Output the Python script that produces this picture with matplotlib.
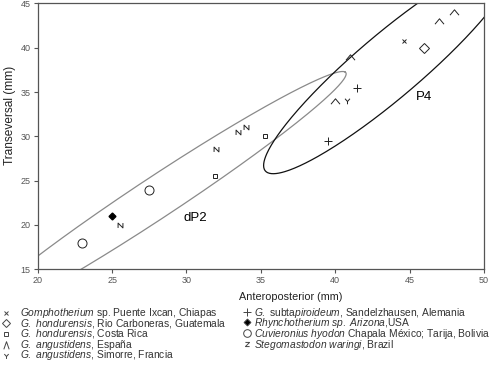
import numpy as np
import matplotlib.pyplot as plt
from matplotlib.path import Path

plt.rcParams['font.family'] = ['Liberation Sans', 'DejaVu Sans']
plt.rcParams['mathtext.fontset'] = 'custom'
plt.rcParams['mathtext.rm'] = 'Liberation Sans'
plt.rcParams['mathtext.it'] = 'Liberation Sans:italic'

# data (anteroposterior, transversal) in mm
gomph_x, gomph_y = [44.6], [40.8]
hond_guat_x, hond_guat_y = [46.0], [40.0]
hond_cr_x, hond_cr_y = [31.9, 35.3], [25.5, 30.0]
ang_esp_x, ang_esp_y = [40.0, 41.0, 47.0, 48.0], [34.0, 39.0, 43.0, 44.0]
ang_sim_x, ang_sim_y = [40.8], [34.0]
subtap_x, subtap_y = [41.5, 39.5], [35.5, 29.5]
rhyn_x, rhyn_y = [25.0], [21.0]
cuv_x, cuv_y = [23.0, 27.5], [18.0, 24.0]
steg_x, steg_y = [25.5, 32.0, 33.5, 34.0], [20.0, 28.6, 30.5, 31.0]

# ellipses: center x, center y, semi-major, semi-minor, angle (deg)
dp2_ell = [28.0, 23.1, 19.0, 1.85, 48.2]
p4_ell = [43.6, 37.9, 14.5, 2.7, 56.0]

# custom glyph-like markers
caret = Path([(-1, -0.6), (0, 0.6), (1, -0.6)], [Path.MOVETO, Path.LINETO, Path.LINETO])
caret_tall = Path([(-0.7, -1), (0, 1), (0.7, -1)], [Path.MOVETO, Path.LINETO, Path.LINETO])
ymark = Path([(-0.8, 0.9), (0, 0), (0.8, 0.9), (0, 0), (0, -0.9)],
             [Path.MOVETO, Path.LINETO, Path.LINETO, Path.MOVETO, Path.LINETO])
zmark = Path([(-0.8, 0.8), (0.8, 0.8), (-0.8, -0.8), (0.8, -0.8)],
             [Path.MOVETO, Path.LINETO, Path.LINETO, Path.LINETO])
nmark = Path([(-0.8, -0.8), (-0.8, 0.8), (0.8, -0.8), (0.8, 0.8)],
             [Path.MOVETO, Path.LINETO, Path.LINETO, Path.LINETO])

def ellipse(p, n=400):
    cx, cy, a, b, ang = p
    t = np.linspace(0, 2 * np.pi, n)
    th = np.radians(ang)
    x = cx + a * np.cos(t) * np.cos(th) - b * np.sin(t) * np.sin(th)
    y = cy + a * np.cos(t) * np.sin(th) + b * np.sin(t) * np.cos(th)
    return x, y

fig = plt.figure(figsize=(5.03, 3.79), dpi=100)
ax = fig.add_axes([0.075, 0.2895, 0.887, 0.7015])

c = '#222222'
x, y = ellipse(dp2_ell)
ax.plot(x, y, color='#8a8a8a', lw=0.9)
x, y = ellipse(p4_ell)
ax.plot(x, y, color='#111111', lw=0.9)

kw = dict(ls='none', color=c, mfc='none', mew=0.7)
ax.plot(gomph_x, gomph_y, marker='x', ms=3.5, **kw)
ax.plot(hond_guat_x, hond_guat_y, marker='D', ms=5, **kw)
ax.plot(hond_cr_x, hond_cr_y, marker='s', ms=3.5, **kw)
ax.plot(ang_esp_x, ang_esp_y, marker=caret, ms=6.5, **kw)
ax.plot(ang_sim_x, ang_sim_y, marker=ymark, ms=4, **kw)
ax.plot(subtap_x, subtap_y, marker='+', ms=6, **kw)
ax.plot(rhyn_x, rhyn_y, ls='none', marker='D', ms=3.5, color='black')
ax.plot(cuv_x, cuv_y, marker='o', ms=6.5, **kw)
ax.plot(steg_x, steg_y, marker=nmark, ms=3.5, **kw)

ax.text(30.6, 20.8, 'dP2', fontsize=9.5, ha='center', va='center')
ax.text(46.0, 34.4, 'P4', fontsize=9.5, ha='center', va='center')

ax.set_xlim(20, 50)
ax.set_ylim(15, 45)
ax.set_xticks(range(20, 51, 5))
ax.set_yticks(range(15, 46, 5))
ax.tick_params(direction='out', length=3, width=0.8, labelsize=6.5, labelcolor='#555555', color='#555555', pad=2)
for s in ax.spines.values():
    s.set_color('#555555')
    s.set_linewidth(0.9)
ax.set_xlabel('Anteroposterior (mm)', fontsize=7.8, color='#222222')
ax.xaxis.set_label_coords(0.567, -0.085)
ax.set_ylabel('Transeversal (mm)', fontsize=8.6, color='#222222')
ax.yaxis.set_label_coords(-0.048, 0.58)

# legend as a pixel-coordinate overlay
lg = fig.add_axes([0, 0, 1, 1], zorder=-1)
lg.set_xlim(0, 503)
lg.set_ylim(379, 0)
lg.axis('off')

def it(s):
    return r'$\mathit{' + s.replace(' ', r'\ ') + '}$'

col1 = [
    ('x', 3.5, 'none', it('Gomphotherium') + ' sp. Puente Ixcan, Chiapas'),
    ('D', 4.0, 'none', it('G. hondurensis') + ', Rio Carboneras, Guatemala'),
    ('s', 3.0, 'none', it('G. hondurensis') + ', Costa Rica'),
    (caret_tall, 5.5, 'none', it('G. angustidens') + ', España'),
    (ymark, 3.5, 'none', it('G. angustidens') + ', Simorre, Francia'),
]
col2 = [
    ('+', 5.5, 'none', it('G.') + ' subta' + it('piroideum') + ', Sandelzhausen, Alemania'),
    ('D', 3.5, 'black', it('Rhynchotherium sp. Arizona') + ',USA'),
    ('o', 5.5, 'none', it('Cuvieronius hyodon') + ' Chapala México; Tarija, Bolivia'),
    (zmark, 3.0, 'none', it('Stegomastodon waringi') + ', Brazil'),
]
row_y = [312.5, 323.3, 334, 344.8, 355.5]
for (m, ms, fc, label), ry in zip(col1, row_y):
    lg.plot([6], [ry], marker=m, ms=ms, mfc=fc, color='#444444', mew=0.7, ls='none')
    lg.text(20, ry, label, fontsize=7.4, va='center', color='#333333')
for (m, ms, fc, label), ry in zip(col2, row_y):
    lg.plot([247], [ry - 1], marker=m, ms=ms, mfc=fc, color='#444444', mew=0.7, ls='none')
    lg.text(254, ry, label, fontsize=7.4, va='center', color='#333333')

fig.savefig('out.png', dpi=100)
